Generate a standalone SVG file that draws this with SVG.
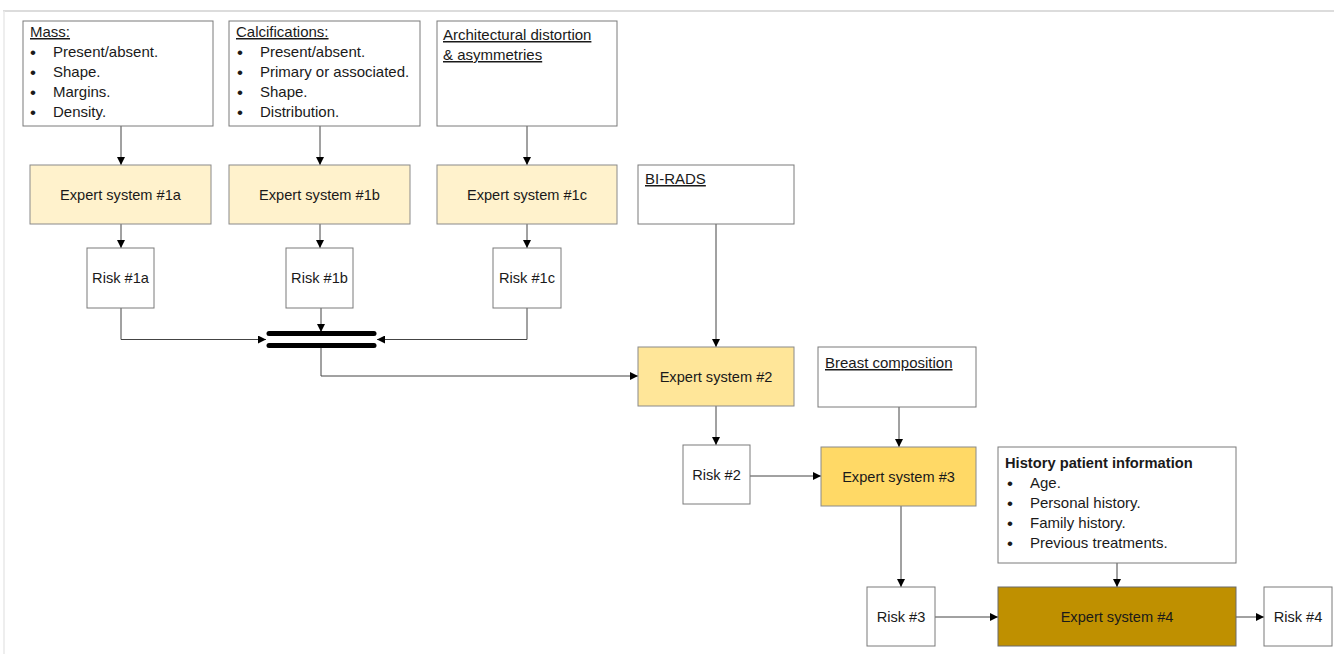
<svg xmlns="http://www.w3.org/2000/svg" width="1334" height="654" viewBox="0 0 1334 654">
<style>
  text { font-family: "Liberation Sans", Arial, sans-serif; font-size: 15px; fill: #1a1a1a; }
  .c { text-anchor: middle; font-size: 14.6px; }
  .u { text-decoration: underline; }
  .b { font-weight: bold; font-size: 14.7px; }
  .bu { font-size: 17px; text-anchor: middle; }
  .box { fill: #ffffff; stroke: #7a7a7a; stroke-width: 1; }
  .e1 { fill: #fff2cc; stroke: #8a8a8a; stroke-width: 1; }
  .e2 { fill: #ffe699; stroke: #8a8a8a; stroke-width: 1; }
  .e3 { fill: #ffd966; stroke: #8a8a8a; stroke-width: 1; }
  .e4 { fill: #bf9000; stroke: #6a6a6a; stroke-width: 1; }
  .ln { fill: none; stroke: #444444; stroke-width: 1; }
  .bar { stroke: #000000; stroke-width: 5; stroke-linecap: round; }
</style>
<defs>
  <marker id="ah" markerWidth="8" markerHeight="8" refX="8" refY="4" orient="auto" markerUnits="userSpaceOnUse">
    <path d="M0,0 L8,4 L0,8 Z" fill="#000000"/>
  </marker>
</defs>
<rect x="0" y="0" width="1334" height="654" fill="#ffffff"/>
<g id="frame">
  <line x1="3" y1="11" x2="1334" y2="11" stroke="#dcdcdc" stroke-width="2"/>
  <line x1="4" y1="11" x2="4" y2="654" stroke="#e8e8e8" stroke-width="1.5"/>
</g>

<g id="connectors">
  <line class="ln" x1="121" y1="126" x2="121" y2="165" marker-end="url(#ah)"/>
  <line class="ln" x1="320" y1="126" x2="320" y2="165" marker-end="url(#ah)"/>
  <line class="ln" x1="527" y1="126" x2="527" y2="165" marker-end="url(#ah)"/>
  <line class="ln" x1="121" y1="224" x2="121" y2="248" marker-end="url(#ah)"/>
  <line class="ln" x1="320" y1="224" x2="320" y2="248" marker-end="url(#ah)"/>
  <line class="ln" x1="527" y1="224" x2="527" y2="248" marker-end="url(#ah)"/>
  <polyline class="ln" points="121,308 121,339.5 266,339.5" marker-end="url(#ah)"/>
  <polyline class="ln" points="527,308 527,339.5 377,339.5" marker-end="url(#ah)"/>
  <line class="ln" x1="321" y1="308" x2="321" y2="332" marker-end="url(#ah)"/>
  <polyline class="ln" points="321,346 321,376 638,376" marker-end="url(#ah)"/>
  <line class="ln" x1="716" y1="224" x2="716" y2="347" marker-end="url(#ah)"/>
  <line class="ln" x1="716" y1="406" x2="716" y2="445" marker-end="url(#ah)"/>
  <line class="ln" x1="899" y1="407" x2="899" y2="447" marker-end="url(#ah)"/>
  <line class="ln" x1="750" y1="476" x2="821" y2="476" marker-end="url(#ah)"/>
  <line class="ln" x1="901" y1="506" x2="901" y2="587" marker-end="url(#ah)"/>
  <line class="ln" x1="1117" y1="563" x2="1117" y2="587" marker-end="url(#ah)"/>
  <line class="ln" x1="935" y1="617" x2="998" y2="617" marker-end="url(#ah)"/>
  <line class="ln" x1="1236" y1="617" x2="1264" y2="617" marker-end="url(#ah)"/>
</g>

<g id="sync-bar">
  <line class="bar" x1="269" y1="333.5" x2="374" y2="333.5"/>
  <line class="bar" x1="269" y1="345.5" x2="374" y2="345.5"/>
</g>

<g id="mass">
  <rect class="box" x="23" y="21" width="190" height="105"/>
  <text x="30" y="37" class="u">Mass:</text>
  <text x="33" y="58" class="bu">•</text><text x="53" y="57">Present/absent.</text>
  <text x="33" y="78" class="bu">•</text><text x="53" y="77">Shape.</text>
  <text x="33" y="98" class="bu">•</text><text x="53" y="97">Margins.</text>
  <text x="33" y="118" class="bu">•</text><text x="53" y="117">Density.</text>
</g>
<g id="calcifications">
  <rect class="box" x="229" y="21" width="191" height="105"/>
  <text x="236" y="37" class="u">Calcifications:</text>
  <text x="240" y="58" class="bu">•</text><text x="260" y="57">Present/absent.</text>
  <text x="240" y="78" class="bu">•</text><text x="260" y="77">Primary or associated.</text>
  <text x="240" y="98" class="bu">•</text><text x="260" y="97">Shape.</text>
  <text x="240" y="118" class="bu">•</text><text x="260" y="117">Distribution.</text>
</g>
<g id="architectural">
  <rect class="box" x="437" y="21" width="180" height="105"/>
  <text x="443" y="40" class="u">Architectural distortion</text>
  <text x="443" y="60" class="u">&amp; asymmetries</text>
</g>

<g id="expert1a">
  <rect class="e1" x="30" y="165" width="181" height="59"/>
  <text x="120.5" y="199.5" class="c">Expert system #1a</text>
</g>
<g id="expert1b">
  <rect class="e1" x="229" y="165" width="181" height="59"/>
  <text x="319.5" y="199.5" class="c">Expert system #1b</text>
</g>
<g id="expert1c">
  <rect class="e1" x="437" y="165" width="180" height="59"/>
  <text x="527" y="199.5" class="c">Expert system #1c</text>
</g>
<g id="birads">
  <rect class="box" x="638" y="165" width="156" height="59"/>
  <text x="645" y="184" class="u">BI-RADS</text>
</g>

<g id="risk1a">
  <rect class="box" x="87" y="248" width="67" height="60"/>
  <text x="120.5" y="283" class="c">Risk #1a</text>
</g>
<g id="risk1b">
  <rect class="box" x="286" y="248" width="67" height="60"/>
  <text x="319.5" y="283" class="c">Risk #1b</text>
</g>
<g id="risk1c">
  <rect class="box" x="493" y="248" width="68" height="60"/>
  <text x="527" y="283" class="c">Risk #1c</text>
</g>

<g id="expert2">
  <rect class="e2" x="638" y="347" width="156" height="59"/>
  <text x="716" y="381.5" class="c">Expert system #2</text>
</g>
<g id="breast">
  <rect class="box" x="818" y="347" width="158" height="60"/>
  <text x="825" y="368" class="u">Breast composition</text>
</g>
<g id="risk2">
  <rect class="box" x="683" y="445" width="67" height="59"/>
  <text x="716.5" y="479.5" class="c">Risk #2</text>
</g>
<g id="expert3">
  <rect class="e3" x="821" y="447" width="155" height="59"/>
  <text x="898.5" y="481.5" class="c">Expert system #3</text>
</g>
<g id="history">
  <rect class="box" x="998" y="447" width="238" height="116"/>
  <text x="1005" y="468" class="b">History patient information</text>
  <text x="1010" y="489" class="bu">•</text><text x="1030" y="488">Age.</text>
  <text x="1010" y="509" class="bu">•</text><text x="1030" y="508">Personal history.</text>
  <text x="1010" y="529" class="bu">•</text><text x="1030" y="528">Family history.</text>
  <text x="1010" y="549" class="bu">•</text><text x="1030" y="548">Previous treatments.</text>
</g>
<g id="risk3">
  <rect class="box" x="867" y="587" width="68" height="59"/>
  <text x="901" y="621.5" class="c">Risk #3</text>
</g>
<g id="expert4">
  <rect class="e4" x="998" y="587" width="238" height="59"/>
  <text x="1117" y="621.5" class="c">Expert system #4</text>
</g>
<g id="risk4">
  <rect class="box" x="1264" y="587" width="68" height="59"/>
  <text x="1298" y="621.5" class="c">Risk #4</text>
</g>
</svg>
